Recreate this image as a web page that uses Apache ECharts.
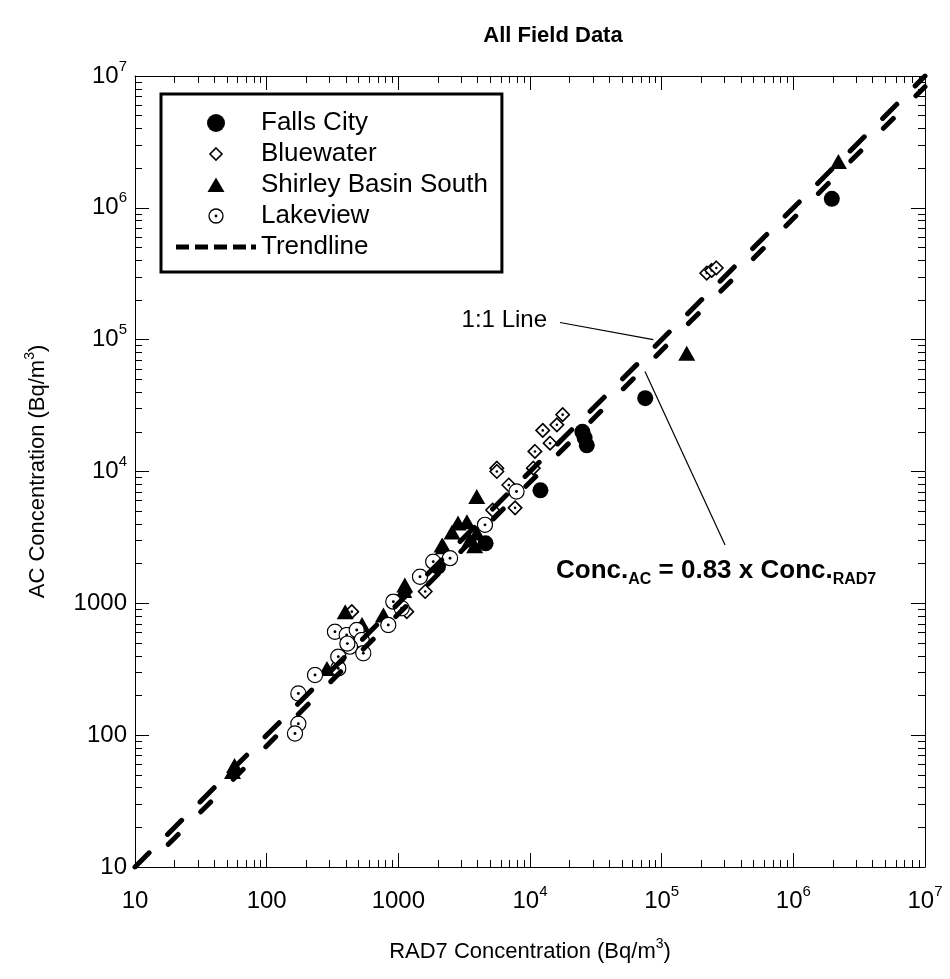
<!DOCTYPE html>
<html>
<head>
<meta charset="utf-8">
<script src="https://cdn.jsdelivr.net/npm/echarts@6/dist/echarts.min.js"></script>
<style>html,body{margin:0;padding:0;background:#fff;}#c{width:950px;height:979px;}</style>
</head>
<body>
<div id="c"></div>
<script>
// ---------------- data ----------------
const fallsX = [1.96e6, 7.5e4, 2.7e4, 2.6e4, 2.5e4, 1.2e4, 4.6e3, 2.0e3];
const fallsY = [1.17e6, 3.6e4, 1.58e4, 1.8e4, 2.0e4, 7.2e3, 2.85e3, 1.9e3];

const blueX = [2.2e5, 2.4e5, 2.6e5, 1.77e4, 1.6e4, 1.25e4, 1.42e4, 1.09e4, 1.06e4, 5.6e3, 5.6e3, 7.7e3, 6.9e3, 5.2e3, 1.6e3, 1.16e3, 443];
const blueY = [3.2e5, 3.35e5, 3.5e5, 2.7e4, 2.26e4, 2.05e4, 1.64e4, 1.42e4, 1.06e4, 1.06e4, 1.0e4, 5.3e3, 7.9e3, 5.1e3, 1.23e3, 865, 865];

const shirleyX = [2.2e6, 1.55e5, 57, 55, 395, 287, 3.94e3, 2.84e3, 3.32e3, 2.56e3, 3.5e3, 2.15e3, 2.2e3, 1.12e3, 1.1e3, 770, 3.8e3, 3.95e3, 530];
const shirleyY = [2.25e6, 7.9e4, 59, 53, 865, 321, 6.46e3, 4.07e3, 4.15e3, 3.48e3, 3.03e3, 2.77e3, 2.69e3, 1.38e3, 1.25e3, 816, 2.73e3, 3.42e3, 690];

const lakeX = [174, 174, 164, 233, 350, 350, 330, 405, 483, 527, 429, 542, 410, 839, 916, 1060, 1460, 1840, 2470, 4550, 7900];
const lakeY = [207, 122, 103, 286, 321, 394, 609, 575, 628, 527, 469, 418, 495, 685, 1030, 917, 1590, 2070, 2200, 3940, 7050];

const oneToOneX = [10, 1e7];
const oneToOneY = [10, 1e7];
const trendSlope = 0.83;
const trendX = [12.05, 1e7];
const trendY = [10, 8.3e6];

const majorTicks = [10, 100, 1000, 1e4, 1e5, 1e6, 1e7];
const majorLabels = ['10', '100', '1000', '10^4', '10^5', '10^6', '10^7'];
const minorMultipliers = [2, 3, 4, 5, 6, 7, 8, 9];
const minorDecades = [10, 100, 1000, 1e4, 1e5, 1e6];

// leader lines for annotations (data coords)
const leader1 = [[1.69e4, 1.35e5], [8.63e4, 1.0e5]];
const leader2 = [[7.47e4, 5.74e4], [3.03e5, 2770]];

// ---------------- helpers ----------------
const zip = (xs, ys) => xs.map((x, i) => [x, ys[i]]);
const minorTicks = [];
minorDecades.forEach(d => minorMultipliers.forEach(m => minorTicks.push(m * d)));

function svgUri(w, h, body) {
  return 'image://data:image/svg+xml;charset=utf-8,' + encodeURIComponent(
    '<svg xmlns="http://www.w3.org/2000/svg" width="' + w + '" height="' + h + '" viewBox="0 0 ' + w + ' ' + h + '">' + body + '</svg>');
}
const circleDotSym = svgUri(20, 20, '<circle cx="10" cy="10" r="8.9" fill="#fff" stroke="#000" stroke-width="1.4"/><circle cx="10" cy="10" r="1.7" fill="#000"/>');
const diamondDotSym = svgUri(20, 20, '<path d="M10 1.6L18.4 10L10 18.4L1.6 10Z" fill="#fff" stroke="#000" stroke-width="2"/><circle cx="10" cy="10" r="1.6" fill="#000"/>');

const iconFalls = svgUri(80, 20, '<circle cx="40" cy="10" r="9" fill="#000"/>');
const iconBlue = svgUri(80, 20, '<path d="M40 4L46 10L40 16L34 10Z" fill="#fff" stroke="#000" stroke-width="1.6"/>');
const iconShirley = svgUri(80, 20, '<path d="M40 2.5L48.5 17L31.5 17Z" fill="#000"/>');
const iconLake = svgUri(80, 20, '<circle cx="40" cy="10" r="7" fill="#fff" stroke="#000" stroke-width="1.3"/><circle cx="40" cy="10" r="1.4" fill="#000"/>');
const iconTrend = svgUri(80, 20, '<rect x="0" y="7.5" width="13" height="5" fill="#000"/><rect x="19" y="7.5" width="13" height="5" fill="#000"/><rect x="38" y="7.5" width="13" height="5" fill="#000"/><rect x="57" y="7.5" width="13" height="5" fill="#000"/><rect x="75" y="7.5" width="5" height="5" fill="#000"/>');

const FONT = '"Liberation Sans", Arial, sans-serif';

function labelFmt(v) {
  const i = majorTicks.findIndex(t => Math.abs(Math.log10(t) - Math.log10(v)) < 1e-6);
  const s = i >= 0 ? majorLabels[i] : String(v);
  if (s.indexOf('^') >= 0) {
    const p = s.split('^');
    return '{b|' + p[0] + '}{e|' + p[1] + '}';
  }
  return '{b|' + s + '}';
}
const labelRich = {
  b: { fontSize: 24, fontFamily: FONT, color: '#000', lineHeight: 34 },
  e: { fontSize: 15, fontFamily: FONT, color: '#000', lineHeight: 15, verticalAlign: 'top' }
};

function baseAxis(pos) {
  return {
    type: 'log', logBase: 10, min: 10, max: 1e7, position: pos, gridIndex: 0,
    splitLine: { show: false },
    axisLine: { show: false, onZero: false },
    axisTick: { show: false },
    axisLabel: { show: false },
    minorTick: { show: false },
    axisPointer: { show: false }
  };
}
function majorAxis(pos, withLabels, name, nameGap) {
  const a = baseAxis(pos);
  a.axisLine = { show: true, onZero: false, lineStyle: { color: '#000', width: 1 } };
  a.axisTick = { show: true, inside: true, length: 14, customValues: majorTicks, lineStyle: { color: '#000', width: 1 } };
  if (withLabels) {
    a.axisLabel = { show: true, customValues: majorTicks, formatter: labelFmt, rich: labelRich,
      margin: (pos === 'bottom' ? 17 : 8) };
    a.name = name;
    a.nameLocation = 'middle';
    a.nameGap = nameGap;
    a.nameTextStyle = {
      rich: {
        n: { fontSize: 22, fontFamily: FONT, color: '#000', lineHeight: 30 },
        s: { fontSize: 14, fontFamily: FONT, color: '#000', lineHeight: 14, verticalAlign: 'top' }
      }
    };
  }
  return a;
}
function minorAxis(pos) {
  const a = baseAxis(pos);
  a.axisTick = { show: true, inside: true, length: 7, customValues: minorTicks, lineStyle: { color: '#000', width: 1 } };
  return a;
}

const xAxes = [
  majorAxis('bottom', true, '{n|RAD7 Concentration (Bq/m}{s|3}{n|)}', 70),
  minorAxis('bottom'),
  majorAxis('top', false),
  minorAxis('top')
];
const yAxes = [
  majorAxis('left', true, '{n|AC Concentration (Bq/m}{s|3}{n|)}', 82),
  minorAxis('left'),
  majorAxis('right', false),
  minorAxis('right')
];
yAxes[0].nameRotate = 90;

const option = {
  backgroundColor: '#fff',
  animation: false,
  title: {
    text: 'All Field Data', left: 548, top: 20, textAlign: 'center',
    textStyle: { fontSize: 22, fontWeight: 'bold', fontFamily: FONT, color: '#000' }
  },
  grid: { left: 135, right: 25, top: 76, bottom: 112, containLabel: false },
  xAxis: xAxes,
  yAxis: yAxes,
  legend: {
    orient: 'vertical', left: 161, top: 94,
    padding: [16, 14, 12, 15],
    itemGap: 5, itemWidth: 80, itemHeight: 20,
    borderColor: '#000', borderWidth: 3, backgroundColor: '#fff',
    selectedMode: false,
    textStyle: { fontSize: 26, fontFamily: FONT, color: '#000' },
    data: [
      { name: 'Falls City', icon: iconFalls },
      { name: 'Bluewater', icon: iconBlue },
      { name: 'Shirley Basin South', icon: iconShirley },
      { name: 'Lakeview', icon: iconLake },
      { name: 'Trendline', icon: iconTrend }
    ]
  },
  series: [
    {
      name: 'Falls City', type: 'scatter', data: zip(fallsX, fallsY),
      symbol: 'circle', symbolSize: 16, itemStyle: { color: '#000', opacity: 1 }
    },
    {
      name: 'Bluewater', type: 'scatter', data: zip(blueX, blueY),
      symbol: diamondDotSym, symbolSize: 16, itemStyle: { opacity: 1 }
    },
    {
      name: '1:1 Line', type: 'line', data: zip(oneToOneX, oneToOneY),
      showSymbol: false, symbol: 'none', clip: true,
      lineStyle: { color: '#000', width: 5, type: [20, 26], cap: 'round', opacity: 1 },
      markLine: {
        silent: true, symbol: ['none', 'none'], label: { show: false },
        lineStyle: { color: '#000', width: 1.2, type: 'solid' },
        data: [
          [{ coord: leader1[0] }, { coord: leader1[1] }],
          [{ coord: leader2[0] }, { coord: leader2[1] }]
        ]
      }
    },
    {
      name: 'Trendline', type: 'line', data: zip(trendX, trendY),
      showSymbol: false, symbol: 'none', clip: true,
      lineStyle: { color: '#000', width: 5, type: [14, 32], dashOffset: 14, cap: 'round', opacity: 1 }
    },
    {
      name: 'Shirley Basin South', type: 'scatter', data: zip(shirleyX, shirleyY),
      symbol: 'triangle', symbolSize: [17, 15], itemStyle: { color: '#000', opacity: 1 }
    },
    {
      name: 'Lakeview', type: 'scatter', data: zip(lakeX, lakeY),
      symbol: circleDotSym, symbolSize: 17, itemStyle: { opacity: 1 }
    }
  ],
  graphic: [
    {
      type: 'text', x: 547, y: 320,
      style: { text: '1:1 Line', font: '24px ' + FONT, fill: '#000', align: 'right', verticalAlign: 'middle', textAlign: 'right', textVerticalAlign: 'middle' }
    },
    {
      type: 'text', x: 556, y: 558,
      style: {
        text: '{a|Conc.}{s|AC}{a| = ' + trendSlope + ' x Conc.}{s|RAD7}',
        align: 'left', verticalAlign: 'top',
        rich: {
          a: { fontSize: 26, fontWeight: 'bold', fontFamily: FONT, fill: '#000', lineHeight: 30, verticalAlign: 'top' },
          s: { fontSize: 16, fontWeight: 'bold', fontFamily: FONT, fill: '#000', lineHeight: 18, padding: [22, 0, 0, 0], verticalAlign: 'bottom' }
        }
      }
    }
  ]
};

const chart = echarts.init(document.getElementById('c'), null, { renderer: 'canvas' });
chart.setOption(option);
</script>
</body>
</html>
